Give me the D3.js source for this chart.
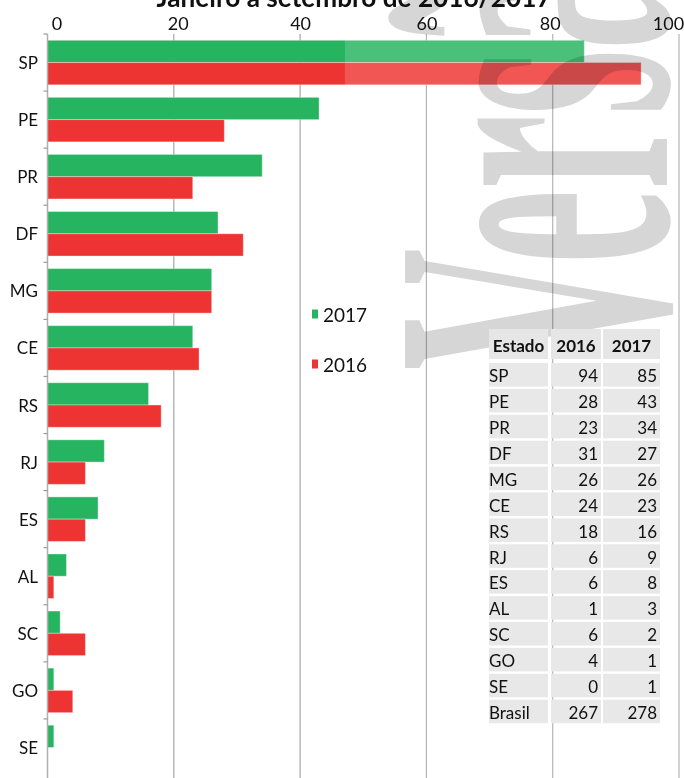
<!DOCTYPE html>
<html>
<head>
<meta charset="utf-8">
<script src="https://cdn.jsdelivr.net/npm/d3@7"></script>
<style>
  body { margin: 0; background: #fff; }
  svg { display: block; font-family: Lato, "Open Sans", sans-serif; }
</style>
</head>
<body>
<script>
// data
const states = ["SP", "PE", "PR", "DF", "MG", "CE", "RS", "RJ", "ES", "AL", "SC", "GO", "SE"];
const v2016 = [94, 28, 23, 31, 26, 24, 18, 6, 6, 1, 6, 4, 0];
const v2017 = [85, 43, 34, 27, 26, 23, 16, 9, 8, 3, 2, 1, 1];
const series = ["2017", "2016"];
const xTicks = [0, 20, 40, 60, 80, 100];
const tableHeader = ["Estado", "2016", "2017"];
const totalLabel = "Brasil";
const title = "Janeiro a setembro de 2016/2017";
const watermark = "Versão";

const colors = {"2017": "#27b460", "2016": "#ee3432"};
const W = 684, H = 778;

const svg = d3.select("body").append("svg")
    .attr("width", W)
    .attr("height", H);

const x = d3.scaleLinear().domain([0, 100]).range([47.5, 679]);
const y = d3.scaleBand().domain(states).range([34, 776])
    .paddingInner(0.22).paddingOuter(0.11);
const ySub = d3.scaleBand().domain(series).range([0, y.bandwidth()]);

const rows = states.map((s, i) => ({state: s, "2016": v2016[i], "2017": v2017[i]}));

// title, mostly cut off at the top
svg.append("text")
    .attr("x", 354).attr("y", 7)
    .attr("text-anchor", "middle")
    .attr("font-weight", "bold")
    .attr("font-size", 26)
    .attr("textLength", 395)
    .attr("lengthAdjust", "spacingAndGlyphs")
    .attr("fill", "#111")
    .text(title);

// gridlines
svg.append("g").selectAll("line").data(xTicks.filter(d => d > 0)).enter()
    .append("line")
    .attr("x1", d => x(d)).attr("x2", d => x(d))
    .attr("y1", 34).attr("y2", H)
    .attr("stroke", "#a6a6a6")
    .attr("stroke-width", 1.2);

// top axis labels
const xaxis = svg.append("g")
    .attr("transform", "translate(0,30)")
    .call(d3.axisTop(x).tickValues(xTicks).tickSize(0).tickPadding(0));
xaxis.select(".domain").remove();
xaxis.selectAll("text")
    .attr("font-family", "Lato, sans-serif")
    .attr("font-size", 18)
    .attr("fill", "#111")
    .attr("dx", d => d === 0 ? 9 : d === 100 ? -11 : d === 80 ? -3 : d === 20 ? 4 : 0);

// bars
const groups = svg.append("g").selectAll("g").data(rows).enter()
    .append("g")
    .attr("transform", d => "translate(0," + y(d.state) + ")");

groups.selectAll("rect").data(d => series.map(k => ({key: k, value: d[k]}))).enter()
    .append("rect")
    .attr("x", x(0))
    .attr("y", d => ySub(d.key))
    .attr("width", d => x(d.value) - x(0))
    .attr("height", ySub.bandwidth())
    .attr("fill", d => colors[d.key])
    .attr("stroke", "#fff")
    .attr("stroke-opacity", 0.35)
    .attr("stroke-width", 1);

// y axis line with ticks between categories
svg.append("line")
    .attr("x1", x(0)).attr("x2", x(0))
    .attr("y1", 34).attr("y2", H)
    .attr("stroke", "#b0b0b0")
    .attr("stroke-width", 1.5);

svg.append("g").selectAll("line").data(states).enter()
    .append("line")
    .attr("x1", x(0) - 4).attr("x2", x(0))
    .attr("y1", d => y(d) - y.step() * 0.11)
    .attr("y2", d => y(d) - y.step() * 0.11)
    .attr("stroke", "#9a9a9a")
    .attr("stroke-width", 1.2);

svg.append("g").selectAll("text").data(states).enter()
    .append("text")
    .attr("x", 38)
    .attr("y", d => y(d) + y.bandwidth() / 2)
    .attr("text-anchor", "end")
    .attr("dominant-baseline", "central")
    .attr("font-size", 17)
    .attr("fill", "#111")
    .text(d => d);

// faded part of the watermark image
svg.append("rect")
    .attr("x", x(47.1)).attr("y", 34)
    .attr("width", W - x(47.1)).attr("height", H - 34)
    .attr("fill", "#fff")
    .attr("opacity", 0.17);

// watermark text, squeezed along its reading direction
svg.append("text")
    .attr("transform", "translate(667,370) rotate(-90) scale(0.42,1)")
    .attr("font-family", "'Liberation Serif', 'DejaVu Serif', serif")
    .attr("font-weight", "bold")
    .attr("font-size", 400)
    .attr("fill", "#d6d6d6")
    .style("mix-blend-mode", "multiply")
    .text(watermark);

// legend
const legendY = {"2017": 314, "2016": 364};
const legend = svg.append("g").selectAll("g").data(series).enter()
    .append("g")
    .attr("transform", d => "translate(312," + legendY[d] + ")");
legend.append("rect")
    .attr("x", 0).attr("y", -4.5)
    .attr("width", 6).attr("height", 9)
    .attr("fill", d => colors[d]);
legend.append("text")
    .attr("x", 11).attr("y", 0)
    .attr("dominant-baseline", "central")
    .attr("font-size", 19)
    .attr("fill", "#111")
    .text(d => d);

// table
const colX = [489, 551, 603];
const colW = [59, 50, 57];
const headerTop = 329, headerH = 30;
const rowTop = 363, rowStep = 25.9, rowH = 23.5;

const tableRows = rows.map(r => [r.state, r["2016"], r["2017"]])
    .concat([[totalLabel, d3.sum(v2016), d3.sum(v2017)]]);

const table = svg.append("g");

const header = table.append("g");
header.selectAll("rect").data(tableHeader).enter()
    .append("rect")
    .attr("x", (d, i) => colX[i]).attr("y", headerTop)
    .attr("width", (d, i) => colW[i]).attr("height", headerH)
    .attr("fill", "#e6e6e6");
header.selectAll("text").data(tableHeader).enter()
    .append("text")
    .attr("x", (d, i) => colX[i] + colW[i] / 2)
    .attr("y", headerTop + headerH / 2 + 1)
    .attr("text-anchor", "middle")
    .attr("dominant-baseline", "central")
    .attr("font-weight", "bold")
    .attr("font-size", 17)
    .attr("fill", "#111")
    .text(d => d);

const trs = table.selectAll("g.row").data(tableRows).enter()
    .append("g")
    .attr("class", "row")
    .attr("transform", (d, i) => "translate(0," + (rowTop + i * rowStep) + ")");

trs.selectAll("rect").data(d => d).enter()
    .append("rect")
    .attr("x", (d, i) => colX[i]).attr("y", 0)
    .attr("width", (d, i) => colW[i]).attr("height", rowH)
    .attr("fill", "#e8e8e8");

trs.selectAll("text").data(d => d).enter()
    .append("text")
    .attr("x", (d, i) => i === 0 ? colX[i] : colX[i] + colW[i] - 3)
    .attr("y", rowH / 2 + 1)
    .attr("text-anchor", (d, i) => i === 0 ? "start" : "end")
    .attr("dominant-baseline", "central")
    .attr("font-size", 17)
    .attr("fill", "#111")
    .text(d => d);
</script>
</body>
</html>
